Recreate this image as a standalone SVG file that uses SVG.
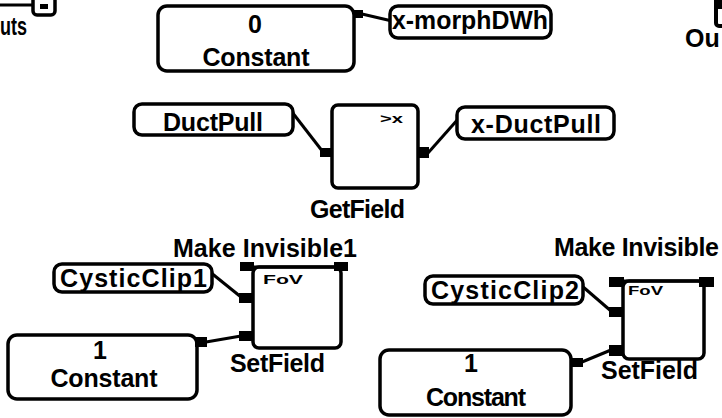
<svg xmlns="http://www.w3.org/2000/svg" width="722" height="418" viewBox="0 0 722 418">
<style>
.bx{fill:#fff;stroke:#000;stroke-width:3.5}
.pt{fill:#000}
.ln{stroke:#000;stroke-width:3;fill:none}
.t{font-family:"Liberation Sans",Arial,sans-serif;font-weight:bold;font-size:25px;fill:#000}
.s{font-family:"Liberation Sans",Arial,sans-serif;font-weight:bold;font-size:13px;fill:#000}
.m{text-anchor:middle}
</style>
<rect width="722" height="418" fill="#fff"/>
<g id="connectors">
<line class="ln" x1="0" y1="5" x2="34" y2="5"/>
<line class="ln" x1="362" y1="14" x2="392" y2="21"/>
<line class="ln" x1="292" y1="112" x2="323" y2="152"/>
<line class="ln" x1="428" y1="153" x2="459" y2="118"/>
<line class="ln" x1="210" y1="272" x2="241" y2="297"/>
<line class="ln" x1="206" y1="342" x2="241" y2="336"/>
<line class="ln" x1="582" y1="286" x2="611" y2="311"/>
<line class="ln" x1="582" y1="362" x2="611" y2="350"/>
</g>
<g id="inputs">
<rect class="bx" x="33" y="-10" width="22" height="25" rx="4"/>
<rect class="pt" x="40" y="4" width="8" height="5"/>
<text class="t" x="0" y="35" textLength="27" lengthAdjust="spacingAndGlyphs" font-size="20">uts</text>
</g>
<g id="outputs">
<rect class="bx" x="716" y="-8" width="14" height="34" rx="3" style="stroke-width:4"/>
<rect class="pt" x="714" y="0" width="8" height="9"/>
<text class="t" x="685" y="47" font-size="21">Ou</text>
</g>
<g id="constant0">
<rect class="bx" x="158" y="6" width="196" height="65" rx="9"/>
<text class="t m" x="255" y="33" font-size="21">0</text>
<text class="t m" x="256" y="66" textLength="107">Constant</text>
<rect class="pt" x="353" y="10" width="10" height="8"/>
</g>
<g id="xmorphDWh">
<rect class="bx" x="390" y="6" width="161" height="32" rx="8"/>
<text class="t" x="392" y="29" textLength="156" lengthAdjust="spacingAndGlyphs">x-morphDWh</text>
</g>
<g id="ductpull">
<rect class="bx" x="134" y="104" width="159" height="31" rx="8"/>
<text class="t" x="163" y="131" textLength="100">DuctPull</text>
</g>
<g id="getfield">
<rect class="bx" x="332" y="105" width="86" height="83" rx="6"/>
<text class="s" x="380" y="123" textLength="23" lengthAdjust="spacingAndGlyphs">&gt;x</text>
<rect class="pt" x="320" y="148" width="13" height="9"/>
<rect class="pt" x="418" y="147" width="11" height="11"/>
<text class="t" x="310" y="218" textLength="95">GetField</text>
</g>
<g id="xductpull">
<rect class="bx" x="457" y="107" width="157" height="32" rx="8"/>
<text class="t" x="471" y="133" textLength="130">x-DuctPull</text>
</g>
<g id="cysticclip1">
<rect class="bx" x="54" y="264" width="158" height="28" rx="8"/>
<text class="t" x="60" y="287" textLength="147">CysticClip1</text>
</g>
<g id="setfield1">
<text class="t" x="173" y="257" textLength="184">Make  Invisible1</text>
<rect class="bx" x="253" y="267" width="88" height="81" rx="6"/>
<line class="ln" x1="240" y1="267" x2="347" y2="267"/>
<rect class="pt" x="240" y="262" width="14" height="9"/>
<rect class="pt" x="334" y="262" width="14" height="9"/>
<text class="s" x="263" y="284" textLength="40" lengthAdjust="spacingAndGlyphs">FoV</text>
<rect class="pt" x="239" y="293" width="14" height="10"/>
<rect class="pt" x="239" y="331" width="14" height="10"/>
<text class="t" x="230" y="372" textLength="95">SetField</text>
</g>
<g id="constant1a">
<rect class="bx" x="8" y="335" width="189" height="64" rx="9"/>
<text class="t m" x="100" y="359" font-size="20">1</text>
<text class="t m" x="104" y="387" textLength="107">Constant</text>
<rect class="pt" x="195" y="337" width="12" height="10"/>
</g>
<g id="cysticclip2">
<rect class="bx" x="425" y="276" width="158" height="28" rx="8"/>
<text class="t" x="431" y="299" textLength="148">CysticClip2</text>
</g>
<g id="setfield2">
<text class="t" x="554" y="256" textLength="165">Make  Invisible</text>
<rect class="bx" x="623" y="281" width="81" height="78" rx="6"/>
<line class="ln" x1="609" y1="281" x2="714" y2="281"/>
<rect class="pt" x="609" y="277" width="15" height="10"/>
<rect class="pt" x="699" y="277" width="15" height="10"/>
<text class="s" x="628" y="295" textLength="35" lengthAdjust="spacingAndGlyphs">FoV</text>
<rect class="pt" x="609" y="307" width="15" height="10"/>
<rect class="pt" x="609" y="345" width="15" height="11"/>
<text class="t" x="601" y="379" textLength="97">SetField</text>
</g>
<g id="constant1b">
<rect class="bx" x="380" y="350" width="191" height="65" rx="9"/>
<text class="t m" x="471" y="372" font-size="22">1</text>
<text class="t m" x="476" y="406" textLength="100">Constant</text>
<rect class="pt" x="571" y="358" width="12" height="9"/>
</g>
</svg>
